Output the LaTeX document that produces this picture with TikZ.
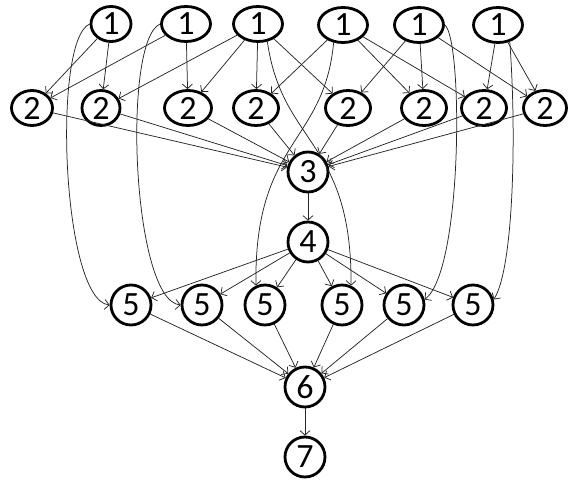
\documentclass[tikz,border=0pt]{standalone}
\usepackage{fontspec}
\setmainfont{Carlito}
\usetikzlibrary{shapes.geometric,arrows.meta}
\tikzset{
  ov/.style={ellipse,draw=black,line width=2.8pt,minimum height=35pt,minimum width=49pt,inner sep=0pt,font=\fontsize{34}{34}\selectfont,fill=white},
  cc/.style={circle,draw=black,line width=2.8pt,minimum size=40pt,inner sep=0pt,font=\fontsize{34}{34}\selectfont,fill=white},
  ed/.style={draw=black!85,line width=0.75pt,-{Straight Barb[length=4.5pt,width=10pt]}}
}
\begin{document}
\begin{tikzpicture}[x=1pt,y=-1pt]
\useasboundingbox (0,0) rectangle (568,482);
% row 1
\node[ov,minimum width=40pt] (1a) at (111,24) {1};
\node[ov] (1b) at (186,24) {1};
\node[ov] (1c) at (258,24) {1};
\node[ov] (1d) at (343,25) {1};
\node[ov] (1e) at (419,25) {1};
\node[ov] (1f) at (498,25) {1};
% row 2
\node[ov,minimum width=41pt] (2a) at (32,108) {2};
\node[ov,minimum width=38pt] (2b) at (101,108) {2};
\node[ov,minimum width=47pt] (2c) at (188,108) {2};
\node[ov,minimum width=45pt] (2d) at (256,108) {2};
\node[ov,minimum width=45pt] (2e) at (348,108) {2};
\node[ov,minimum width=45pt] (2f) at (424,108) {2};
\node[ov,minimum width=45pt] (2g) at (484,108) {2};
\node[ov,minimum width=43pt] (2h) at (545,108) {2};
% middle
\node[cc] (3) at (308,172) {3};
\node[cc] (4) at (308,242) {4};
\node[cc] (5a) at (131,305) {5};
\node[cc] (5b) at (202,305) {5};
\node[cc] (5c) at (265,305) {5};
\node[cc] (5d) at (342,305) {5};
\node[cc] (5e) at (404,305) {5};
\node[cc] (5f) at (473,305) {5};
\node[cc] (6) at (305,387) {6};
\node[cc] (7) at (305,457) {7};
% 1 -> 2
\path[ed] (1a) -- (2a);
\path[ed] (1a) -- (2b);
\path[ed] (1b) -- (2a);
\path[ed] (1b) -- (2c);
\path[ed] (1c) -- (2b);
\path[ed] (1c) -- (2c);
\path[ed] (1c) -- (2d);
\path[ed] (1c) -- (2e);
\path[ed] (1d) -- (2d);
\path[ed] (1d) -- (2f);
\path[ed] (1d) -- (2g);
\path[ed] (1e) -- (2e);
\path[ed] (1e) -- (2f);
\path[ed] (1e) -- (2h);
\path[ed] (1f) -- (2g);
\path[ed] (1f) -- (2h);
% 2 -> 3
\foreach \n in {2a,2b,2c,2d,2e,2f,2g,2h} \path[ed] (\n) -- (3);
\path[ed] (3) -- (4);
\foreach \n in {5a,5b,5c,5d,5e,5f} {\path[ed] (4) -- (\n); \path[ed] (\n) -- (6);}
\path[ed] (6) -- (7);
% long curves 1 -> 5
\path[ed] (1a.west) .. controls (52,40) and (62,300) .. (5a.west);
\path[ed] (1b.west) .. controls (122,40) and (132,300) .. (5b.west);
\path[ed] (1c.-62) .. controls (282,145) and (352,140) .. (5d.65);
\path[ed] (1d.-118) .. controls (324,145) and (254,140) .. (5c.115);
\path[ed] (1e.east) .. controls (463,40) and (463,270) .. (5e.15);
\path[ed] (1f.-55) .. controls (517,140) and (513,270) .. (5f.15);
\end{tikzpicture}
\end{document}
